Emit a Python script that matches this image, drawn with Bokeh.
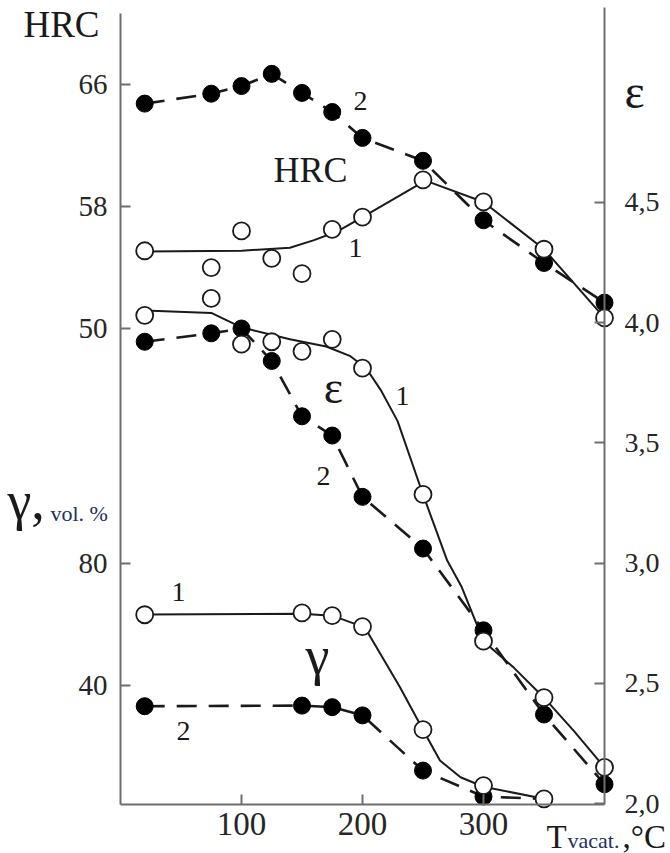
from bokeh.plotting import figure
from bokeh.models import Range1d, LinearAxis, FixedTicker, Label
from bokeh.embed import file_html
from bokeh.resources import INLINE

# ---------------- data ----------------
temps = [20, 75, 100, 125, 150, 175, 200, 250, 300, 350, 400]

hrc_2 = [64.75, 65.4, 65.9, 66.7, 65.45, 64.2, 62.5, 61.0, 57.1, 54.3, 51.7]
hrc_1 = [55.1, 54.0, 56.4, 54.6, 53.6, 56.5, 57.3, 59.75, 58.3, 55.2, 50.7]

eps_2 = [3.92, 3.955, 3.975, 3.84, 3.61, 3.53, 3.275, 3.06, 2.72, 2.37, 2.08]
eps_1 = [4.03, 4.10, 3.91, 3.92, 3.88, 3.93, 3.81, 3.285, 2.675, 2.44, 2.15]

gamma_temps = [20, 150, 175, 200, 250, 300, 350]
gamma_1 = [63.2, 63.8, 62.9, 59.3, 25.5, 7.2, 2.85]
gamma_2 = [33.2, 33.4, 32.9, 30.2, 12.1, 3.6, 2.8]

# smooth fitted curves (solid lines, series 1)
hrc_1_curve_t = [20, 100, 140, 160, 180, 200, 252, 300, 350, 400]
hrc_1_curve = [55.05, 55.1, 55.3, 55.8, 56.4, 57.3, 59.7, 58.3, 55.2, 50.7]

eps_1_curve_t = [20, 75, 100, 140, 170, 190, 203, 215, 229, 250, 270, 282, 300, 325, 350, 375, 400]
eps_1_curve = [4.05, 4.04, 3.98, 3.93, 3.90, 3.86, 3.81, 3.72, 3.59, 3.285, 3.01, 2.90, 2.675, 2.565, 2.44, 2.30, 2.15]

gamma_1_curve_t = [20, 150, 175, 200, 205, 231, 250, 264, 281, 300, 350]
gamma_1_curve = [63.3, 63.5, 62.9, 59.3, 57.0, 39.4, 25.5, 15.4, 9.9, 6.8, 2.85]

x_ticks = [100, 200, 300]
x_axis_span = [0, 400]
hrc_ticks = [50, 58, 66]
gamma_ticks = [40, 80]
eps_ticks = [2.0, 2.5, 3.0, 3.5, 4.0, 4.5]
eps_tick_labels = ["2,0", "2,5", "3,0", "3,5", "4,0", "4,5"]

# ---------------- layout / scales (page pixels) ----------------
W, H = 670, 853
FL, FB = 120, 804            # left axis x, bottom axis y
XS = 484 / 400               # px per degree
EPS_PX, EPS_AT_FB = 240.5, 2.0 - 1.0 / 240.5
HRC_PX, HRC_AT_FB = 15.25, 18.79
GAM_PX, GAM_AT_FB = 3.05, 0.98
LEFT_TOP, RIGHT_TOP = 13, 7  # where the vertical axis lines end

X_START = x_axis_span[0] - FL / XS
X_END = X_START + W / XS


def vrange(per_px, at_fb):
    return at_fb - (H - FB) / per_px, at_fb + FB / per_px


EPS_R = vrange(EPS_PX, EPS_AT_FB)
HRC_R = vrange(HRC_PX, HRC_AT_FB)
GAM_R = vrange(GAM_PX, GAM_AT_FB)

FONT = "Liberation Serif"
INK = "#1a1a1a"
AXIS = "#6e6e6e"
NAVY = "#22305e"

p = figure(frame_width=W, frame_height=H,
           x_range=Range1d(X_START, X_END), y_range=Range1d(*EPS_R),
           output_backend="svg", toolbar_location=None,
           x_axis_location=None, y_axis_location=None,
           min_border=0, outline_line_color=None,
           background_fill_color="white", border_fill_color="white")
p.extra_y_ranges = {"hrc": Range1d(*HRC_R), "gam": Range1d(*GAM_R)}
p.xgrid.grid_line_color = None
p.ygrid.grid_line_color = None


def style_axis(ax, size, standoff):
    ax.axis_line_color = AXIS
    ax.axis_line_width = 2
    ax.major_tick_line_color = AXIS
    ax.major_tick_line_width = 2
    ax.major_tick_in = 10
    ax.major_tick_out = 0
    ax.minor_tick_line_color = None
    ax.major_label_text_font = FONT
    ax.major_label_text_font_size = size
    ax.major_label_text_color = "#262626"
    ax.major_label_standoff = standoff


bottom = LinearAxis(ticker=FixedTicker(ticks=x_ticks), fixed_location=EPS_AT_FB,
                    bounds=tuple(x_axis_span))
style_axis(bottom, "33px", 8)
p.add_layout(bottom, "below")


def gamma_to_hrc(g):
    return HRC_R[0] + (g - GAM_R[0]) * (HRC_R[1] - HRC_R[0]) / (GAM_R[1] - GAM_R[0])


left_ticks = hrc_ticks + [gamma_to_hrc(g) for g in gamma_ticks]
left_over = {float(h): str(h) for h in hrc_ticks}
for g in gamma_ticks:
    left_over[gamma_to_hrc(g)] = str(g)
left = LinearAxis(y_range_name="hrc", ticker=FixedTicker(ticks=left_ticks),
                  major_label_overrides=left_over, fixed_location=x_axis_span[0],
                  bounds=(HRC_AT_FB, HRC_AT_FB + (FB - LEFT_TOP) / HRC_PX))
style_axis(left, "29px", 13)
p.add_layout(left, "left")

right = LinearAxis(ticker=FixedTicker(ticks=eps_ticks),
                   major_label_overrides={float(v): s for v, s in zip(eps_ticks, eps_tick_labels)},
                   fixed_location=x_axis_span[1],
                   bounds=(EPS_AT_FB, EPS_AT_FB + (FB - RIGHT_TOP) / EPS_PX))
style_axis(right, "28px", 20)
p.add_layout(right, "right")

# ---------------- lines ----------------
SOLID_W = 2.0
DASH_W = 2.6
DASH = "20 12"

p.line(hrc_1_curve_t, hrc_1_curve, y_range_name="hrc", line_color=INK, line_width=SOLID_W)
p.line(temps, hrc_2, y_range_name="hrc", line_color=INK, line_width=DASH_W, line_dash=DASH)
p.line(eps_1_curve_t, eps_1_curve, line_color=INK, line_width=SOLID_W)
p.line(temps, eps_2, line_color=INK, line_width=DASH_W, line_dash=DASH)
p.line(gamma_1_curve_t, gamma_1_curve, y_range_name="gam", line_color=INK, line_width=SOLID_W)
p.line(gamma_temps, gamma_2, y_range_name="gam", line_color=INK, line_width=DASH_W, line_dash=DASH)

# ---------------- markers ----------------
MS = 17
filled = dict(marker="circle", size=MS, fill_color="black", line_color="black", line_width=1)
opened = dict(marker="circle", size=MS, fill_color="white", line_color=INK, line_width=1.8)

p.scatter(temps, hrc_2, y_range_name="hrc", **filled)
p.scatter(temps, hrc_1, y_range_name="hrc", **opened)
p.scatter(temps, eps_2, **filled)
p.scatter(temps, eps_1, **opened)
p.scatter(gamma_temps, gamma_2, y_range_name="gam", **filled)
p.scatter(gamma_temps, gamma_1, y_range_name="gam", **opened)

# ---------------- texts (anchor = middle, given in page pixels) ----------------


def px_x(px):
    return X_START + px / XS


def px_y(py):
    return EPS_R[1] - py / EPS_PX


def add_text(txt, x, y, size, align="left", color=INK, font=FONT):
    p.add_layout(Label(x=px_x(x), y=px_y(y), text=txt, text_font=font,
                       text_font_size=f"{size}px", text_color=color,
                       text_align=align, text_baseline="middle"))


add_text("HRC", 61, 24, 37, align="center")
add_text("γ,", 7, 500, 54)
add_text("vol. %", 50, 513, 22, color=NAVY)
add_text("ε", 634, 91, 48, align="center")
add_text("T", 546, 836, 33)
add_text("vacat.", 567, 840, 22, color=NAVY)
add_text(",°C", 622, 836, 33)

add_text("HRC", 310, 169, 36, align="center")
add_text("ε", 333, 387, 46, align="center")
add_text("γ", 317, 655, 54, align="center")

add_text("2", 360, 100, 28, align="center")
add_text("1", 355, 247, 28, align="center")
add_text("1", 402, 395, 28, align="center")
add_text("2", 323, 475, 28, align="center")
add_text("1", 178, 591, 28, align="center")
add_text("2", 183, 730, 28, align="center")

open("out.html", "w").write(file_html(p, INLINE))
